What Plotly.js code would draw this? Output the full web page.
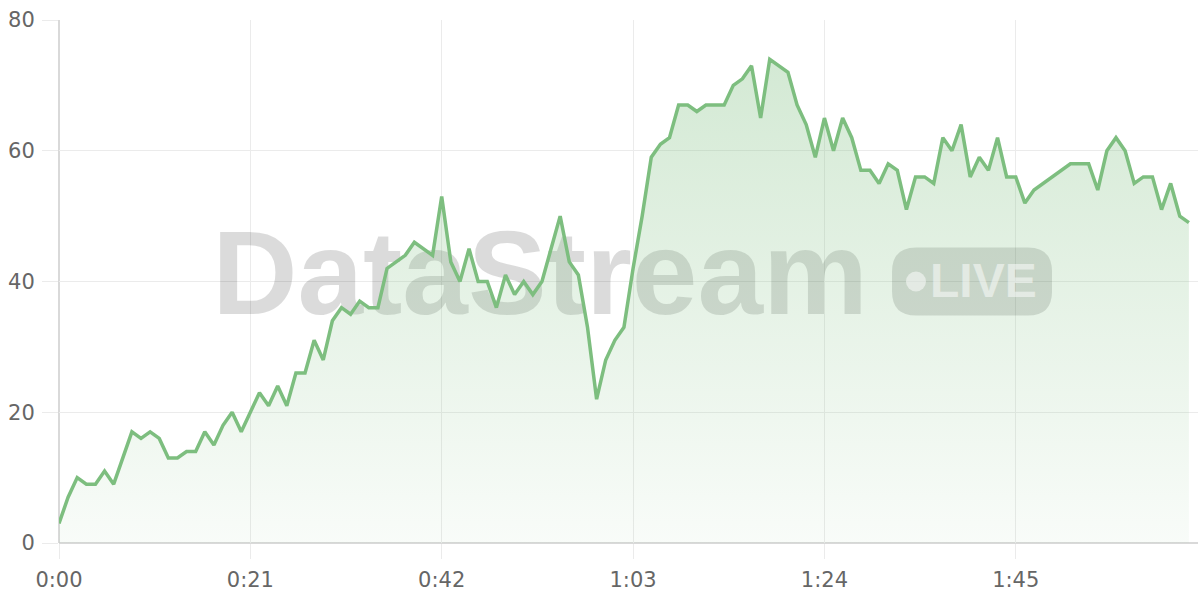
<!DOCTYPE html>
<html>
<head>
<meta charset="utf-8">
<script src="https://cdn.plot.ly/plotly-3.0.1.min.js"></script>
<style>
  html, body { margin: 0; padding: 0; background: #ffffff; }
  #chart { width: 1200px; height: 600px; }
</style>
</head>
<body>
<div id="chart"></div>
<script>
// Elapsed seconds
const seconds = [];
for (let i = 0; i < 125; i++) seconds.push(i);

// Series values
const values = [
  3, 7, 10, 9, 9, 11, 9, 13, 17, 16,
  17, 16, 13, 13, 14, 14, 17, 15, 18, 20,
  17, 20, 23, 21, 24, 21, 26, 26, 31, 28,
  34, 36, 35, 37, 36, 36, 42, 43, 44, 46,
  45, 44, 53, 43, 40, 45, 40, 40, 36, 41,
  38, 40, 38, 40, 45, 50, 43, 41, 33, 22,
  28, 31, 33, 42, 50, 59, 61, 62, 67, 67,
  66, 67, 67, 67, 70, 71, 73, 65, 74, 73,
  72, 67, 64, 59, 65, 60, 65, 62, 57, 57,
  55, 58, 57, 51, 56, 56, 55, 62, 60, 64,
  56, 59, 57, 62, 56, 56, 52, 54, 55, 56,
  57, 58, 58, 58, 54, 60, 62, 60, 55, 56,
  56, 51, 55, 50, 49
];

// Axis ticks
const xTickVals = [0, 21, 42, 63, 84, 105];
const xTickText = ['0:00', '0:21', '0:42', '1:03', '1:24', '1:45'];
const yTickVals = [0, 20, 40, 60, 80];

// Watermark
const watermarkText = 'DataStream';
const badgeText = 'LIVE';

const lineColor = 'rgb(125,190,127)';
const gridColor = '#ebebeb';
const axisColor = '#cccccc';
const labelFont = { family: 'DejaVu Sans, Verdana, sans-serif', size: 21, color: '#666666' };

const trace = {
  x: seconds,
  y: values,
  type: 'scatter',
  mode: 'lines',
  line: { color: lineColor, width: 3.5, shape: 'linear' },
  fill: 'tozeroy',
  fillgradient: {
    type: 'vertical',
    start: 0,
    stop: 80,
    colorscale: [[0, 'rgba(125,190,127,0.05)'], [1, 'rgba(125,190,127,0.36)']]
  },
  hoverinfo: 'x+y'
};

const layout = {
  width: 1200,
  height: 600,
  margin: { l: 59, r: 2, t: 20, b: 57 },
  paper_bgcolor: '#ffffff',
  plot_bgcolor: '#ffffff',
  showlegend: false,
  xaxis: {
    range: [0, 125],
    tickvals: xTickVals,
    ticktext: xTickText,
    showgrid: true,
    gridcolor: gridColor,
    gridwidth: 1,
    zeroline: false,
    showline: false,
    ticks: 'outside',
    ticklen: 15,
    tickcolor: gridColor,
    tickwidth: 1,
    tickfont: labelFont,
    ticklabelstandoff: 3,
    fixedrange: true
  },
  yaxis: {
    range: [0, 80],
    tickvals: yTickVals,
    showgrid: true,
    gridcolor: gridColor,
    gridwidth: 1,
    zeroline: false,
    showline: false,
    ticks: 'outside',
    ticklen: 16,
    tickcolor: gridColor,
    tickwidth: 1,
    tickfont: labelFont,
    ticklabelstandoff: 3,
    fixedrange: true
  },
  shapes: [
    // axis lines
    { type: 'line', xref: 'paper', yref: 'paper', x0: 0, x1: 0, y0: 0, y1: 1,
      line: { color: axisColor, width: 1.5 }, layer: 'between' },
    { type: 'line', xref: 'paper', yref: 'paper', x0: 0, x1: 1, y0: 0, y1: 0,
      line: { color: axisColor, width: 1.5 }, layer: 'between' },
    // watermark word
    { type: 'rect', xref: 'x', yref: 'y', x0: 40, x1: 65.6, y0: 38.5, y1: 47.5,
      line: { width: 0 }, fillcolor: 'rgba(0,0,0,0)', layer: 'between',
      label: { text: watermarkText, textposition: 'middle center',
        font: { family: 'Liberation Sans, Arial, sans-serif', size: 118, color: 'rgba(0,0,0,0.14)', weight: 'bold' } } },
    // badge pill
    { type: 'path', xref: 'x', yref: 'y', xsizemode: 'pixel', ysizemode: 'pixel',
      xanchor: 100.2, yanchor: 40,
      path: 'M -56,-34 L 56,-34 Q 80,-34 80,-10 L 80,10 Q 80,34 56,34 L -56,34 Q -80,34 -80,10 L -80,-10 Q -80,-34 -56,-34 Z',
      line: { width: 0 }, fillcolor: 'rgba(0,0,0,0.14)', layer: 'between' },
    // badge dot
    { type: 'circle', xref: 'x', yref: 'y', xsizemode: 'pixel', ysizemode: 'pixel',
      xanchor: 94.05, yanchor: 40, x0: -10, x1: 10, y0: -10, y1: 10,
      line: { width: 0 }, fillcolor: 'rgba(255,255,255,0.5)', layer: 'above' }
  ],
  annotations: [
    { x: 101.46, y: 40.2, xref: 'x', yref: 'y', text: badgeText, showarrow: false,
      xanchor: 'center', yanchor: 'middle',
      font: { family: 'Liberation Sans, Arial, sans-serif', size: 48, color: 'rgba(255,255,255,0.5)', weight: 'bold' } }
  ]
};

Plotly.newPlot('chart', [trace], layout, { displayModeBar: false, staticPlot: true });
</script>
</body>
</html>
